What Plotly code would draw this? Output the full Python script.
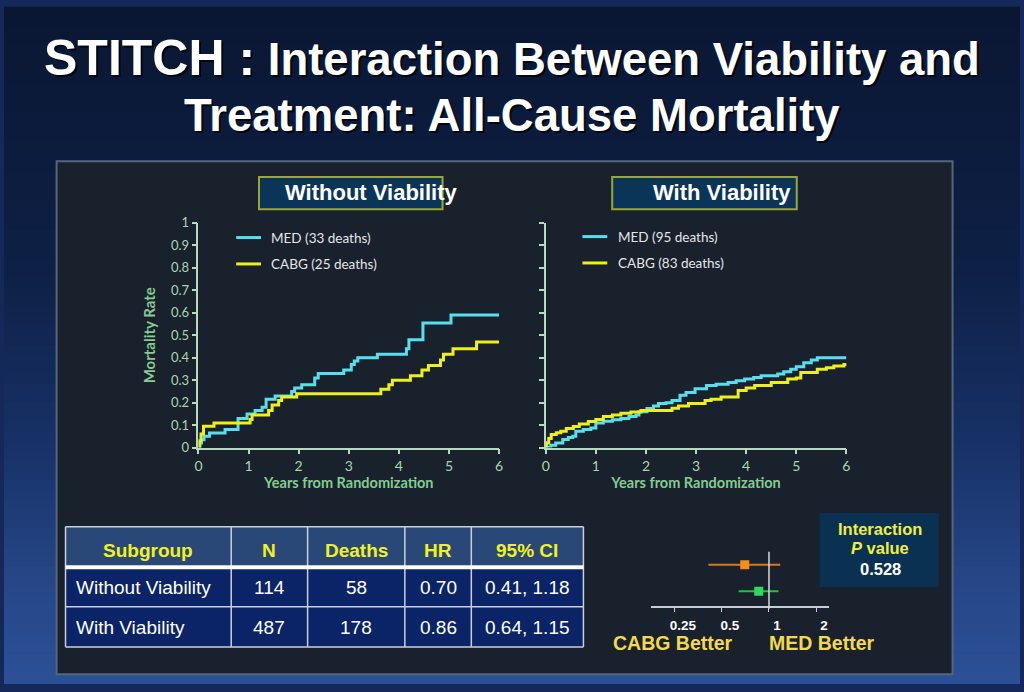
import plotly.graph_objects as go

W, H = 1024, 692

# ---------------- data ----------------
title_line1 = "STITCH :"
title_line1b = "Interaction Between Viability and"
title_line2 = "Treatment: All-Cause Mortality"
panel_titles = ["Without Viability", "With Viability"]

left_med_t = [0, 0.03, 0.06, 0.11, 0.22, 0.53, 0.79, 0.97, 1.13, 1.27, 1.35, 1.53, 1.86, 1.92, 2.06, 2.32, 2.39,
              2.90, 3.05, 3.11, 3.18, 3.57, 4.15, 4.20, 4.48, 5.04, 6.0]
left_med_y = [0, 0.02, 0.035, 0.05, 0.065, 0.08, 0.13, 0.15, 0.165, 0.18, 0.215, 0.23, 0.25, 0.265, 0.28, 0.31, 0.33,
              0.345, 0.37, 0.385, 0.40, 0.415, 0.44, 0.48, 0.555, 0.59, 0.59]
left_cabg_t = [0, 0.02, 0.05, 0.1, 0.31, 1.03, 1.07, 1.40, 1.47, 1.6, 1.66, 1.96, 3.64, 3.80, 3.87, 4.23, 4.46, 4.59,
               4.83, 4.89, 5.08, 5.55, 6.0]
left_cabg_y = [0, 0.03, 0.06, 0.095, 0.11, 0.125, 0.145, 0.165, 0.19, 0.21, 0.225, 0.24, 0.26, 0.28, 0.30, 0.32, 0.345,
               0.365, 0.39, 0.415, 0.44, 0.47, 0.47]

right_med_t = [0, 0.1, 0.2, 0.34, 0.45, 0.54, 0.6, 0.75, 0.9, 1.0, 1.15, 1.33, 1.5, 1.66, 1.8, 1.86, 2.02, 2.15, 2.25,
               2.4, 2.52, 2.68, 2.8, 2.98, 3.21, 3.4, 3.64, 3.8, 3.97, 4.15, 4.3, 4.63, 4.75, 4.89, 5.0, 5.15, 5.3,
               5.42, 6.0]
right_med_y = [0, 0.01, 0.02, 0.036, 0.045, 0.05, 0.073, 0.08, 0.087, 0.11, 0.117, 0.124, 0.13, 0.138, 0.145, 0.16,
               0.174, 0.185, 0.196, 0.2, 0.21, 0.233, 0.245, 0.262, 0.276, 0.282, 0.29, 0.298, 0.305, 0.312, 0.32,
               0.327, 0.338, 0.349, 0.36, 0.378, 0.39, 0.40, 0.40]
right_cabg_t = [0, 0.02, 0.06, 0.11, 0.21, 0.3, 0.41, 0.55, 0.67, 0.85, 1.0, 1.15, 1.33, 1.5, 1.7, 1.9, 2.52, 2.65,
                2.85, 3.18, 3.3, 3.5, 3.84, 4.0, 4.17, 4.5, 4.83, 5.0, 5.09, 5.42, 5.6, 5.75, 5.95, 6.0]
right_cabg_y = [0, 0.022, 0.04, 0.058, 0.066, 0.073, 0.085, 0.094, 0.105, 0.116, 0.125, 0.138, 0.145, 0.153, 0.158,
                0.165, 0.175, 0.185, 0.196, 0.21, 0.215, 0.225, 0.254, 0.265, 0.276, 0.29, 0.305, 0.31, 0.334, 0.349,
                0.355, 0.363, 0.37, 0.375]

legend_left = ["MED (33 deaths)", "CABG (25 deaths)"]
legend_right = ["MED (95 deaths)", "CABG (83 deaths)"]

km_xticks = [0, 1, 2, 3, 4, 5, 6]
km_yticks = [0, 0.1, 0.2, 0.3, 0.4, 0.5, 0.6, 0.7, 0.8, 0.9, 1]
km_yticktext = ["0", "0.1", "0.2", "0.3", "0.4", "0.5", "0.6", "0.7", "0.8", "0.9", "1"]

table_header = ["Subgroup", "N", "Deaths", "HR", "95% CI"]
subgroups = ["Without Viability", "With Viability"]
n_vals = ["114", "487"]
deaths_vals = ["58", "178"]
hr_vals = [0.70, 0.86]
ci_lo = [0.41, 0.64]
ci_hi = [1.18, 1.15]

forest_rows = [2, 1]
forest_ticks = [0.25, 0.5, 1, 2]
forest_ticktext = ["0.25", "0.5", "1", "2"]
p_value = "0.528"

# ---------------- helpers ----------------
def px(x):
    return x / W


def py(y):
    return 1 - y / H


CYAN = "#58dfee"
YELLOW = "#eef01c"
AXIS = "#b6dac0"
TICKTXT = "#a9d6b1"
AXTITLE = "#84cc92"
SLIDE_FONT = "Liberation Sans, Arial, sans-serif"
CHART_FONT = "Lato, Open Sans, sans-serif"

fig = go.Figure()

# ---------------- KM curves ----------------
fig.add_trace(go.Scatter(x=left_med_t, y=left_med_y, mode="lines", line=dict(color=CYAN, width=3, shape="hv"),
                         xaxis="x", yaxis="y", showlegend=False))
fig.add_trace(go.Scatter(x=left_cabg_t, y=left_cabg_y, mode="lines", line=dict(color=YELLOW, width=3, shape="hv"),
                         xaxis="x", yaxis="y", showlegend=False))
fig.add_trace(go.Scatter(x=right_med_t, y=right_med_y, mode="lines", line=dict(color=CYAN, width=3, shape="hv"),
                         xaxis="x2", yaxis="y2", showlegend=False))
fig.add_trace(go.Scatter(x=right_cabg_t, y=right_cabg_y, mode="lines", line=dict(color=YELLOW, width=3, shape="hv"),
                         xaxis="x2", yaxis="y2", showlegend=False))

# ---------------- forest plot ----------------
forest_colors = [("#d8781c", "#f58c1e"), ("#22c048", "#30d85c")]
for i in range(2):
    lc, mc = forest_colors[i]
    fig.add_trace(go.Scatter(
        x=[hr_vals[i]], y=[forest_rows[i]], mode="markers",
        marker=dict(symbol="square", size=9, color=mc),
        error_x=dict(type="data", symmetric=False, array=[ci_hi[i] - hr_vals[i]],
                     arrayminus=[hr_vals[i] - ci_lo[i]], width=0, thickness=2, color=lc),
        xaxis="x3", yaxis="y3", showlegend=False))

# ---------------- background / panel shapes ----------------
shapes = []
stops = [(0.0, (10, 23, 51)), (0.4, (14, 32, 70)), (0.65, (24, 50, 104)), (0.85, (38, 70, 135)), (1.0, (44, 80, 150))]


def grad(t):
    for (t0, c0), (t1, c1) in zip(stops[:-1], stops[1:]):
        if t0 <= t <= t1:
            f = (t - t0) / (t1 - t0)
            return "rgb(%d,%d,%d)" % tuple(round(a + (b - a) * f) for a, b in zip(c0, c1))
    return "rgb(%d,%d,%d)" % stops[-1][1]


NB = 70
for k in range(NB):
    y0 = k / NB
    y1 = (k + 1) / NB
    shapes.append(dict(type="rect", xref="paper", yref="paper", x0=0, x1=1, y0=1 - y1, y1=1 - y0 + 0.002,
                       fillcolor=grad((k + 0.5) / NB), line=dict(width=0), layer="below"))
# panel
shapes.append(dict(type="rect", xref="paper", yref="paper", x0=px(53), x1=px(956), y0=py(682), y1=py(157),
                   fillcolor="#19212c", line=dict(color="#55667c", width=2), layer="below"))
# panel title boxes
for (x0, x1) in [(257, 442), (613, 799)]:
    shapes.append(dict(type="rect", xref="paper", yref="paper", x0=px(x0), x1=px(x1), y0=py(206), y1=py(173),
                       fillcolor="#0b3558", line=dict(color="#9aa830", width=2), layer="below"))
# legend samples
for (x0, x1, yy, c) in [(234, 259, 235, CYAN), (234, 259, 262, YELLOW), (583, 608, 234, CYAN),
                        (583, 608, 261, YELLOW)]:
    shapes.append(dict(type="line", xref="paper", yref="paper", x0=px(x0), x1=px(x1), y0=py(yy), y1=py(yy),
                       line=dict(color=c, width=3)))
# p-value box
shapes.append(dict(type="rect", xref="paper", yref="paper", x0=px(822), x1=px(942), y0=py(593), y1=py(517),
                   fillcolor="#0b3152", line=dict(width=0), layer="below"))
# null line in forest plot
shapes.append(dict(type="line", xref="x3", yref="y3 domain", x0=1, x1=1, y0=-0.05, y1=0.97,
                   line=dict(color="#d8dce2", width=1.5)))

# ---------------- table (shapes + text) ----------------
ann = []
col_w = [167, 77, 98, 67, 113]
tx0 = 62
col_edges = [tx0]
for w in col_w:
    col_edges.append(col_edges[-1] + w)
hdr_top, hdr_bot = 531, 571
row_edges = [(574, 613), (613, 654)]
GRID = "#c9d0dc"
shapes.append(dict(type="rect", xref="paper", yref="paper", x0=px(col_edges[0]), x1=px(col_edges[-1]),
                   y0=py(hdr_bot), y1=py(hdr_top), fillcolor="#2a4877", line=dict(width=0), layer="below"))
for (r0, r1) in row_edges:
    shapes.append(dict(type="rect", xref="paper", yref="paper", x0=px(col_edges[0]), x1=px(col_edges[-1]),
                       y0=py(r1), y1=py(r0), fillcolor="#0a2467", line=dict(width=0), layer="below"))
for xe in col_edges:
    shapes.append(dict(type="line", xref="paper", yref="paper", x0=px(xe), x1=px(xe), y0=py(654), y1=py(531),
                       line=dict(color=GRID, width=1.5)))
for ye in [531, 613, 654]:
    shapes.append(dict(type="line", xref="paper", yref="paper", x0=px(col_edges[0]), x1=px(col_edges[-1]),
                       y0=py(ye), y1=py(ye), line=dict(color=GRID, width=1.5)))
shapes.append(dict(type="line", xref="paper", yref="paper", x0=px(col_edges[0]), x1=px(col_edges[-1]),
                   y0=py(572.5), y1=py(572.5), line=dict(color="white", width=4)))

col_centers = [(a + b) / 2 for a, b in zip(col_edges[:-1], col_edges[1:])]
for j, h in enumerate(table_header):
    ann.append(dict(text="<b>%s</b>" % h, xref="paper", yref="paper", x=px(col_centers[j]), y=py(555),
                    xanchor="center", yanchor="middle", showarrow=False,
                    font=dict(family=SLIDE_FONT, size=19, color="#f2f21e")))
table_rows = [[subgroups[i], n_vals[i], deaths_vals[i], "%.2f" % hr_vals[i], "%.2f, %.2f" % (ci_lo[i], ci_hi[i])]
              for i in range(2)]
for i, row in enumerate(table_rows):
    yc = [593, 634][i]
    for j, val in enumerate(row):
        if j == 0:
            ann.append(dict(text=val, xref="paper", yref="paper", x=px(col_edges[0] + 9), y=py(yc),
                            xanchor="left", yanchor="middle", showarrow=False,
                            font=dict(family=SLIDE_FONT, size=19, color="white")))
        else:
            ann.append(dict(text=val, xref="paper", yref="paper", x=px(col_centers[j]), y=py(yc),
                            xanchor="center", yanchor="middle", showarrow=False,
                            font=dict(family=SLIDE_FONT, size=19, color="white")))

# ---------------- annotations ----------------
t1 = "<b><span style='font-size:50px'>%s</span> %s</b>" % (title_line1, title_line1b)
t2 = "<b>%s</b>" % title_line2
for txt, yy in [(t1, 51), (t2, 110)]:
    ann.append(dict(text=txt, xref="paper", yref="paper", x=0.5, y=py(yy), xanchor="center", yanchor="middle",
                    showarrow=False, xshift=2, yshift=-2,
                    font=dict(family=SLIDE_FONT, size=45.5, color="rgba(0,0,0,0.75)")))
    ann.append(dict(text=txt, xref="paper", yref="paper", x=0.5, y=py(yy), xanchor="center", yanchor="middle",
                    showarrow=False, font=dict(family=SLIDE_FONT, size=45.5, color="white")))

for txt, cx in [(panel_titles[0], 370), (panel_titles[1], 724)]:
    ann.append(dict(text="<b>%s</b>" % txt, xref="paper", yref="paper", x=px(cx), y=py(189), xanchor="center",
                    yanchor="middle", showarrow=False, font=dict(family=SLIDE_FONT, size=22, color="white")))

for txt, xx, yy in [(legend_left[0], 267, 235), (legend_left[1], 267, 262), (legend_right[0], 617, 234),
                    (legend_right[1], 617, 261)]:
    ann.append(dict(text=txt, xref="paper", yref="paper", x=px(xx), y=py(yy), xanchor="left", yanchor="middle",
                    showarrow=False, font=dict(family=CHART_FONT, size=13.5, color="#e4e6e8")))

ann.append(dict(text="<b>CABG Better</b>", xref="paper", yref="paper", x=px(674), y=py(650), xanchor="center",
                yanchor="middle", showarrow=False, font=dict(family=SLIDE_FONT, size=19.5, color="#f2d94e")))
ann.append(dict(text="<b>MED Better</b>", xref="paper", yref="paper", x=px(824), y=py(650), xanchor="center",
                yanchor="middle", showarrow=False, font=dict(family=SLIDE_FONT, size=19.5, color="#f2d94e")))

ann.append(dict(text="<b>Interaction</b>", xref="paper", yref="paper", x=px(883), y=py(533), xanchor="center",
                yanchor="middle", showarrow=False, font=dict(family=SLIDE_FONT, size=16.5, color="#f0f03c")))
ann.append(dict(text="<b><i>P</i> value</b>", xref="paper", yref="paper", x=px(883), y=py(553), xanchor="center",
                yanchor="middle", showarrow=False, font=dict(family=SLIDE_FONT, size=16.5, color="#f0f03c")))
ann.append(dict(text="<b>%s</b>" % p_value, xref="paper", yref="paper", x=px(883), y=py(574), xanchor="center",
                yanchor="middle", showarrow=False, font=dict(family=SLIDE_FONT, size=16.5, color="white")))

# ---------------- axes ----------------
km_x = dict(range=[0, 6], tickvals=km_xticks, showline=True, linecolor=AXIS, linewidth=1.5, ticks="outside",
            ticklen=5, tickcolor=AXIS, tickwidth=1.5, tickfont=dict(family=CHART_FONT, size=14, color=TICKTXT),
            showgrid=False, zeroline=False,
            title=dict(text="<b>Years from Randomization</b>", standoff=3,
                       font=dict(family=CHART_FONT, size=14.5, color=AXTITLE)))
km_y = dict(range=[0, 1], tickvals=km_yticks, ticktext=km_yticktext, showline=True, linecolor=AXIS, linewidth=1.5,
            ticks="outside", ticklen=5, tickcolor=AXIS, tickwidth=1.5,
            tickfont=dict(family=CHART_FONT, size=13, color=TICKTXT), showgrid=False, zeroline=False)

fig.update_layout(
    width=W, height=H, margin=dict(l=0, r=0, t=0, b=0),
    paper_bgcolor="#14285a", plot_bgcolor="rgba(0,0,0,0)",
    showlegend=False,
    xaxis=dict(km_x, domain=[px(196), px(499)], anchor="y"),
    yaxis=dict(km_y, domain=[py(450), py(220)], anchor="x",
               title=dict(text="<b>Mortality Rate</b>", standoff=12,
                          font=dict(family=CHART_FONT, size=15, color=AXTITLE))),
    xaxis2=dict(km_x, domain=[px(546), px(849)], anchor="y2"),
    yaxis2=dict(km_y, domain=[py(450), py(220)], anchor="x2", showticklabels=False),
    xaxis3=dict(type="log", domain=[px(652), px(831)], range=[-0.7545, 0.3802], anchor="y3",
                tickvals=forest_ticks, ticktext=forest_ticktext, showline=True, linecolor="#c8ccd4", linewidth=1.5,
                ticks="outside", ticklen=4, tickcolor="#c8ccd4", showgrid=False, zeroline=False, ticklabelshift=8,
                ticklabelstandoff=2,
                tickfont=dict(family=SLIDE_FONT, size=13.5, color="white", weight="bold")),
    yaxis3=dict(domain=[py(612), py(555)], range=[0.444, 2.555], anchor="x3", visible=False),
    shapes=shapes,
    annotations=ann,
)

fig.write_html("out.html")
